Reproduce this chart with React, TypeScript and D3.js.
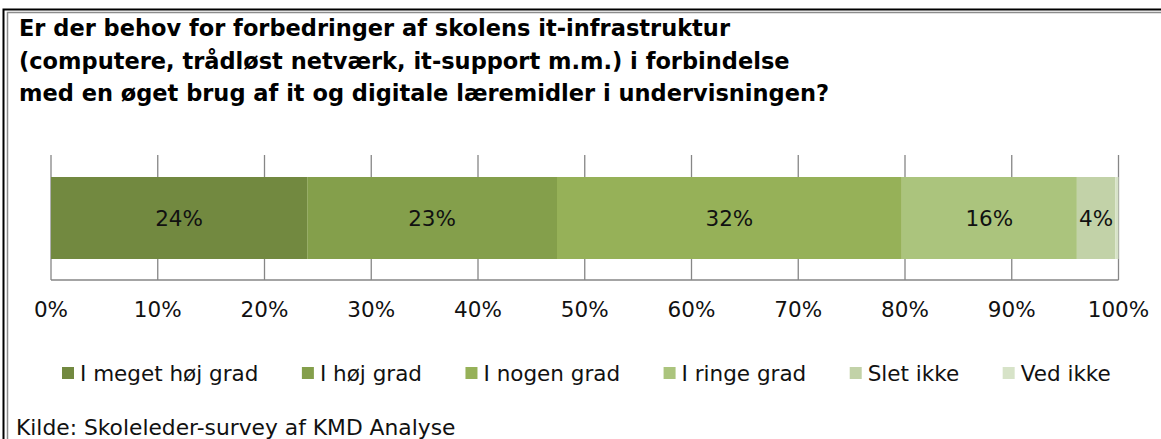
import React, { useEffect, useRef } from "react";
import * as d3 from "d3";

// survey answers, share of respondents in %
const categories = ["I meget høj grad", "I høj grad", "I nogen grad", "I ringe grad", "Slet ikke", "Ved ikke"];
const shares = [24.0, 23.4, 32.3, 16.4, 3.6, 0.3];
const colors = ["#728940", "#849f4b", "#96b158", "#abc47d", "#c2d2a8", "#d7e3c8"];
const tickValues = [0, 10, 20, 30, 40, 50, 60, 70, 80, 90, 100];
const titleLines = [
    "Er der behov for forbedringer af skolens it-infrastruktur",
    "(computere, trådløst netværk, it-support m.m.) i forbindelse",
    "med en øget brug af it og digitale læremidler i undervisningen?",
];
const source = "Kilde: Skoleleder-survey af KMD Analyse";

const W = 1161;
const H = 439;
const FONT = "Verdana, 'DejaVu Sans', sans-serif";

const App = () => {
    const svgRef = useRef<SVGSVGElement>(null);

    useEffect(() => {
        const svg = d3.select(svgRef.current);
        svg.selectAll("*").remove();

        svg.append("rect").attr("width", W).attr("height", H).attr("fill", "#fff");

        // frame: black outer, grey inner (top + left only, right side is cut)
        svg.append("path").attr("d", `M3.5,${H} V9.5 H${W}`).attr("fill", "none").attr("stroke", "#000").attr("stroke-width", 2);
        svg.append("path").attr("d", `M7.5,${H} V12.5 H${W}`).attr("fill", "none").attr("stroke", "#8c8c8c").attr("stroke-width", 1.5);

        svg.append("g").selectAll("text").data(titleLines).join("text")
            .attr("x", 19)
            .attr("y", (d, i) => 36 + i * 32.5)
            .attr("font-family", FONT)
            .attr("font-weight", "bold")
            .attr("font-size", 22.5)
            .attr("fill", "#000")
            .text(d => d);

        const x = d3.scaleLinear().domain([0, 100]).range([51, 1118.5]);
        const gridTop = 155, barTop = 177, barBottom = 259, axisY = 280;

        // gridlines behind the bar
        svg.append("g").selectAll("line").data(tickValues).join("line")
            .attr("x1", d => x(d)).attr("x2", d => x(d))
            .attr("y1", gridTop).attr("y2", axisY)
            .attr("stroke", "#868686").attr("stroke-width", 1.3);

        const ends = d3.cumsum(shares);
        const segs = shares.map((v, i) => ({ v, start: ends[i] - v, end: ends[i], color: colors[i] }));

        const bar = svg.append("g");
        bar.selectAll("rect").data(segs).join("rect")
            .attr("x", d => x(d.start))
            .attr("width", d => x(d.end) - x(d.start))
            .attr("y", barTop)
            .attr("height", barBottom - barTop)
            .attr("fill", d => d.color);

        bar.selectAll("text").data(segs.filter(d => d.v >= 1)).join("text")
            .attr("x", d => (x(d.start) + x(d.end)) / 2)
            .attr("y", (barTop + barBottom) / 2)
            .attr("dy", "0.36em")
            .attr("text-anchor", "middle")
            .attr("font-family", FONT)
            .attr("font-size", 21.5)
            .attr("fill", "#111")
            .text(d => `${Math.round(d.v)}%`);

        svg.append("line")
            .attr("x1", x(0)).attr("x2", x(100))
            .attr("y1", axisY).attr("y2", axisY)
            .attr("stroke", "#868686").attr("stroke-width", 1.5);

        svg.append("g").selectAll("text").data(tickValues).join("text")
            .attr("x", d => x(d))
            .attr("y", 317)
            .attr("text-anchor", "middle")
            .attr("font-family", FONT)
            .attr("font-size", 21.5)
            .attr("fill", "#111")
            .text(d => `${d}%`);

        // legend, items laid out by measured text width
        const legend = svg.append("g");
        let lx = 62;
        categories.forEach((c, i) => {
            legend.append("rect").attr("x", lx).attr("y", 367).attr("width", 12).attr("height", 12).attr("fill", colors[i]);
            const t = legend.append("text")
                .attr("x", lx + 18).attr("y", 381)
                .attr("font-family", FONT)
                .attr("font-size", 21.5)
                .attr("fill", "#111")
                .text(c);
            const w = (t.node() as SVGTextElement).getComputedTextLength();
            lx += 18 + w + 43.5;
        });

        svg.append("text")
            .attr("x", 16).attr("y", 435)
            .attr("font-family", FONT)
            .attr("font-size", 21.8)
            .attr("fill", "#111")
            .text(source);
    }, []);

    return <svg ref={svgRef} width={W} height={H} style={{ position: "absolute", left: 0, top: 0 }}></svg>;
};

export default App;
